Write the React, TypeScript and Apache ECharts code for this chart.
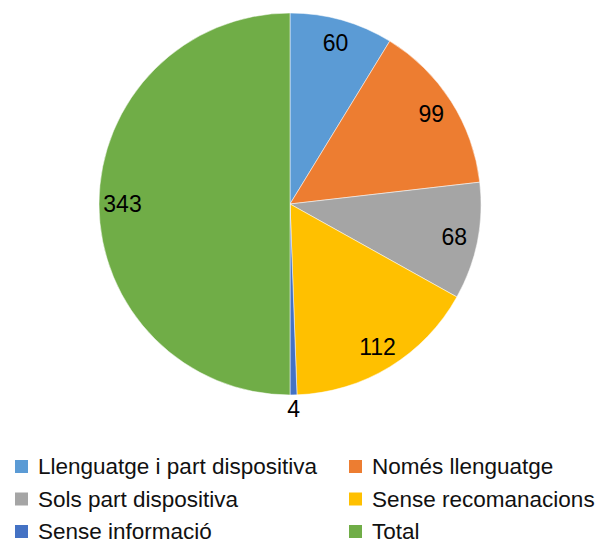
import React, { useEffect, useRef } from "react";
import * as echarts from "echarts";

const categories = [
  "Llenguatge i part dispositiva",
  "Només llenguatge",
  "Sols part dispositiva",
  "Sense recomanacions",
  "Sense informació",
  "Total",
];
const values = [60, 99, 68, 112, 4, 343];
const colors = ["#5B9BD5", "#ED7D31", "#A5A5A5", "#FFC000", "#4472C4", "#70AD47"];
const outsideLabelNames = ["Sense informació"];

export default function App() {
  const ref = useRef<HTMLDivElement>(null);
  useEffect(() => {
    const chart = echarts.init(ref.current!, undefined, { renderer: "svg" });
    const font = "'Liberation Sans', Arial, sans-serif";
    const center = [290, 204];
    const R = 191;
    const mainData = categories.map((name, i) => ({
      name,
      value: values[i],
      itemStyle: { color: colors[i] },
    }));
    const ringData = (inside: boolean) =>
      categories.map((name, i) => {
        const isOut = outsideLabelNames.includes(name);
        return {
          name,
          value: values[i],
          itemStyle: { color: "rgba(0,0,0,0)" },
          label: { show: inside ? !isOut : isOut },
        };
      });
    const labelStyle = {
      position: "inside",
      formatter: "{c}",
      color: "#000",
      fontSize: 23,
      fontFamily: font,
    };
    const legendBase = {
      orient: "vertical",
      top: 455,
      height: 100,
      padding: 0,
      itemWidth: 15,
      itemHeight: 15,
      itemGap: 9.5,
      icon: "rect",
      textStyle: {
        fontSize: 22.5,
        fontFamily: font,
        color: "#111",
        padding: [0, 0, 0, 4],
      },
      selectedMode: false,
    };
    chart.setOption({
      animation: false,
      legend: [
        { ...legendBase, data: [categories[0], categories[2], categories[4]], left: 13 },
        { ...legendBase, data: [categories[1], categories[3], categories[5]], left: 347 },
      ],
      series: [
        {
          type: "pie",
          center,
          radius: [0, R],
          startAngle: 90,
          clockwise: true,
          label: { show: false },
          labelLine: { show: false },
          itemStyle: { borderColor: "#fff", borderWidth: 0.5 },
          data: mainData,
        },
        {
          type: "pie",
          center,
          radius: [138, R],
          startAngle: 90,
          clockwise: true,
          silent: true,
          label: labelStyle,
          labelLine: { show: false },
          data: ringData(true),
        },
        {
          type: "pie",
          center,
          radius: [R, 214],
          startAngle: 90,
          clockwise: true,
          silent: true,
          label: labelStyle,
          labelLine: { show: false },
          data: ringData(false),
        },
      ],
    });
    return () => chart.dispose();
  }, []);
  return (
    <div
      ref={ref}
      style={{ position: "absolute", left: 0, top: 0, width: 595, height: 543, background: "#fff" }}
    />
  );
}
